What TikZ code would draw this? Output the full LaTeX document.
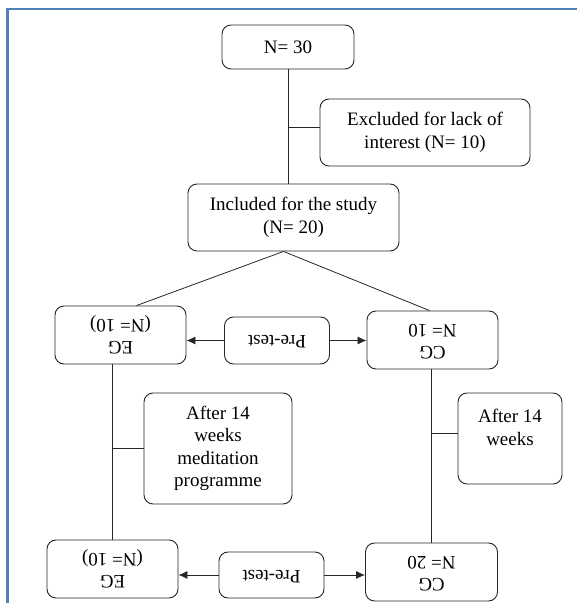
\documentclass[tikz,border=0pt]{standalone}
\usepackage{fontspec}
\setmainfont{Liberation Serif}
\usetikzlibrary{arrows.meta}
\definecolor{frameblue}{RGB}{79,129,189}
\newcommand{\flipped}[1]{\rotatebox{180}{\begin{tabular}{@{}c@{}}#1\end{tabular}}}

\begin{document}
\begin{tikzpicture}[x=10pt,y=10pt,
  font=\fontsize{19}{22.5}\selectfont,
  rbox/.style={draw=black!85, line width=0.9pt, rounded corners=9pt, align=center, inner sep=0pt},
  link/.style={draw=black!85, line width=0.8pt},
  prearrow/.style={link, -{Latex[length=9pt,width=8pt]}}]
\useasboundingbox (0,0) rectangle (57.7,60.3);
\draw[frameblue, line width=2.2pt] (0.75,0)--(0.75,59.4)--(57.7,59.4);
\node[rbox, minimum width=132pt, minimum height=44pt] (n30) at (28.8,55.6) {N= 30};
\node[rbox, minimum width=210pt, minimum height=67pt] (excl) at (42.5,47.05) {Excluded for lack of\\interest (N= 10)};
\node[rbox, minimum width=211pt, minimum height=67pt] (incl) at (29.35,38.55) {Included for the study\\(N= 20)};
\node[rbox, minimum width=131pt, minimum height=58pt] (eg1) at (12.05,26.8) {\flipped{EG\\(N= 10)}};
\node[rbox, minimum width=105pt, minimum height=47pt] (pre1) at (27.7,26.25) {\flipped{Pre-test}};
\node[rbox, minimum width=131pt, minimum height=58pt] (cg1) at (43.25,26.3) {\flipped{CG\\N= 10}};
\node[rbox, minimum width=148pt, minimum height=111pt] (med) at (21.8,15.45) {After 14\\weeks\\meditation\\programme};
\node[rbox, minimum width=104pt, minimum height=91pt] (after) at (51.0,16.45) {After 14\\weeks\\~};
\node[rbox, minimum width=131pt, minimum height=58pt] (eg2) at (11.25,3.4) {\flipped{EG\\(N= 10)}};
\node[rbox, minimum width=105pt, minimum height=46pt] (pre2) at (27.15,2.8) {\flipped{Pre-test}};
\node[rbox, minimum width=132pt, minimum height=58pt] (cg2) at (43.15,3.1) {\flipped{CG\\N= 20}};
\draw[link] (n30.south) -- (n30.south |- incl.north);
\draw[link] ([yshift=5pt]excl.west) -- ([yshift=5pt]excl.west -| n30.south);
\draw[link] ([xshift=-10pt]incl.south) -- ([xshift=16pt]eg1.north);
\draw[link] ([xshift=-10pt]incl.south) -- ([xshift=-3pt]cg1.north);
\draw[prearrow] (pre1.west) -- (pre1.west -| eg1.east);
\draw[prearrow] (pre1.east) -- (pre1.east -| cg1.west);
\draw[link] (eg2.north) -- (eg2.north |- eg1.south);
\draw[link] (med.west) -- (med.west -| eg2.north);
\draw[link] (cg2.north) -- (cg2.north |- cg1.south);
\draw[link] ([yshift=5pt]after.west) -- ([yshift=5pt]after.west -| cg2.north);
\draw[prearrow] (pre2.west) -- (pre2.west -| eg2.east);
\draw[prearrow] (pre2.east) -- (pre2.east -| cg2.west);
\end{tikzpicture}
\end{document}
